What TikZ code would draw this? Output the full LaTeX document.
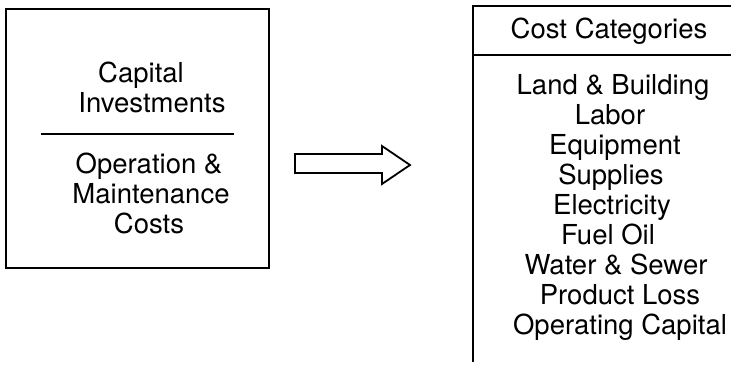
\documentclass[tikz,border=0pt]{standalone}
\usepackage{fontspec}
\setmainfont{TeX Gyre Heros}
\begin{document}
\begin{tikzpicture}[x=1pt,y=-1pt,
  frame/.style={line width=1.8pt},
  lbl/.style={font=\fontsize{27.5}{30}\selectfont, anchor=base, inner sep=0pt}]
\useasboundingbox (0,0) rectangle (731,365);
% left box
\node[draw, frame, minimum width=263pt, minimum height=259pt, inner sep=0pt, outer sep=0pt, anchor=north west] (leftbox) at (6,9) {};
\coordinate (sepL) at (41,134);
\coordinate (sepR) at (234,134);
\draw[line width=1.5pt] (sepL) -- (sepR);
\node[lbl] (capital) at (141,82) {Capital};
\node[lbl] (invest) at (152,112) {Investments};
\node[lbl] (oper) at (149,173) {Operation \&};
\node[lbl] (maint) at (151,203) {Maintenance};
\node[lbl] (costs) at (149,233) {Costs};
% block arrow
\draw[frame, line join=miter, fill=white] (295,154) -- (382,154) -- (382,146) -- (410,165) -- (382,184) -- (382,173) -- (295,173) -- cycle;
% right box (open)
\coordinate (rtl) at (473,6);
\coordinate (rtr) at (735,6);
\coordinate (rbl) at (473,362);
\coordinate (rhl) at (473,55);
\coordinate (rhr) at (735,55);
\draw[frame] (rtr) -- (rtl) -- (rbl);
\draw[frame] (rhl) -- (rhr);
\node[lbl] (cc) at (609,38) {Cost Categories};
\node[lbl] (c1) at (613,94) {Land \& Building};
\node[lbl] (c2) at (610,124) {Labor};
\node[lbl] (c3) at (615,154) {Equipment};
\node[lbl] (c4) at (611,184) {Supplies};
\node[lbl] (c5) at (612,214) {Electricity};
\node[lbl] (c6) at (608,244) {Fuel Oil};
\node[lbl] (c7) at (616,274) {Water \& Sewer};
\node[lbl] (c8) at (620,304) {Product Loss};
\node[lbl] (c9) at (620,334) {Operating Capital};
\end{tikzpicture}
\end{document}
